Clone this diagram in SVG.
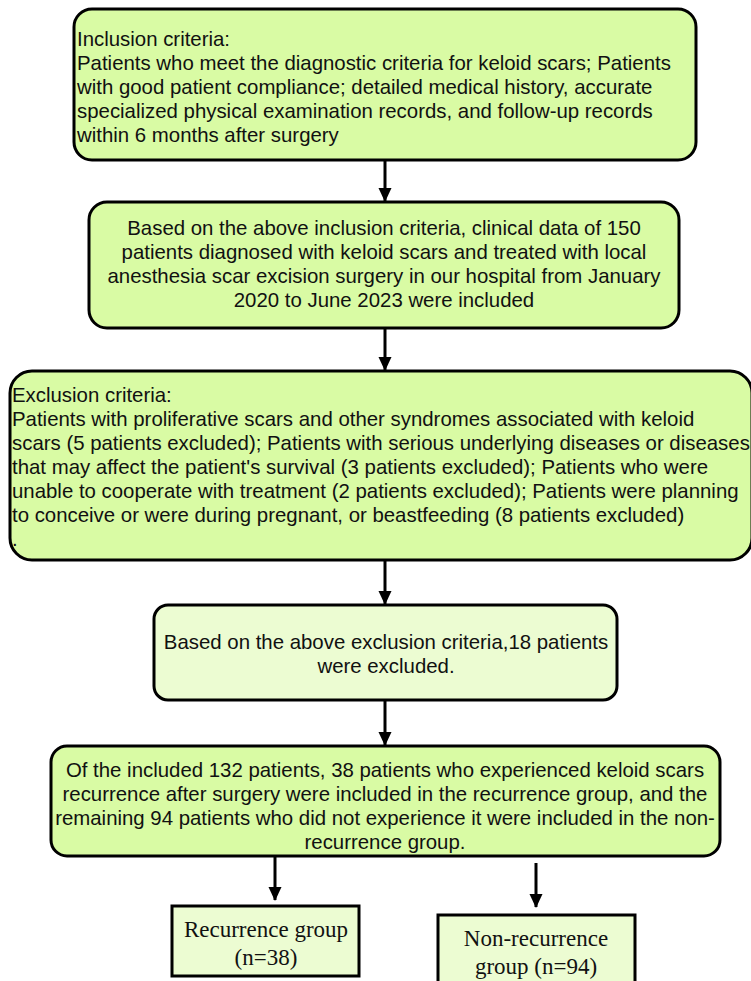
<svg xmlns="http://www.w3.org/2000/svg" width="751" height="981" viewBox="0 0 751 981">
<defs>
<style>
.box{fill:#d9fba4;stroke:#000;stroke-width:3}
.lbox{fill:#ecfcd2;stroke:#000;stroke-width:3}
.t{font-family:"Liberation Sans",Arial,sans-serif;font-size:20.4px;fill:#111}
.c{text-anchor:middle}
.s{font-family:"Liberation Serif","Times New Roman",serif;font-size:23px;fill:#111;text-anchor:middle}
.ln{stroke:#000;stroke-width:3;fill:none}
</style>
<marker id="ah" markerWidth="14" markerHeight="14" refX="13" refY="7" orient="auto" markerUnits="userSpaceOnUse" viewBox="0 0 14 14">
<path d="M0,0.5 L14,7 L0,13.5 Z" fill="#000"/>
</marker>
</defs>
<rect width="751" height="981" fill="#fff"/>
<g id="connectors">
<line class="ln" x1="385" y1="160" x2="385" y2="201" marker-end="url(#ah)"/>
<line class="ln" x1="385" y1="328" x2="385" y2="370" marker-end="url(#ah)"/>
<line class="ln" x1="385" y1="560" x2="385" y2="604" marker-end="url(#ah)"/>
<line class="ln" x1="385" y1="700" x2="385" y2="745" marker-end="url(#ah)"/>
<line class="ln" x1="275" y1="857" x2="275" y2="900" marker-end="url(#ah)"/>
<line class="ln" x1="536" y1="863" x2="536" y2="907" marker-end="url(#ah)"/>
</g>
<g id="inclusion">
<rect class="box" x="74" y="9" width="622" height="151" rx="18"/>
<text class="t" x="77" y="46">Inclusion criteria:</text>
<text class="t" x="77" y="70">Patients who meet the diagnostic criteria for keloid scars; Patients</text>
<text class="t" x="77" y="94">with good patient compliance; detailed medical history, accurate</text>
<text class="t" x="77" y="118">specialized physical examination records, and follow-up records</text>
<text class="t" x="77" y="142">within 6 months after surgery</text>
</g>
<g id="included">
<rect class="box" x="89" y="202" width="590" height="126" rx="18"/>
<text class="t c" x="384" y="235">Based on the above inclusion criteria, clinical data of 150</text>
<text class="t c" x="384" y="259">patients diagnosed with keloid scars and treated with local</text>
<text class="t c" x="384" y="283">anesthesia scar excision surgery in our hospital from January</text>
<text class="t c" x="384" y="307">2020 to June 2023 were included</text>
</g>
<g id="exclusion">
<rect class="box" x="10" y="371" width="742" height="189" rx="22"/>
<text class="t" x="12" y="402">Exclusion criteria:</text>
<text class="t" x="12" y="426">Patients with proliferative scars and other syndromes associated with keloid</text>
<text class="t" x="12" y="450">scars (5 patients excluded); Patients with serious underlying diseases or diseases</text>
<text class="t" x="12" y="474">that may affect the patient's survival (3 patients excluded); Patients who were</text>
<text class="t" x="12" y="498">unable to cooperate with treatment (2 patients excluded); Patients were planning</text>
<text class="t" x="12" y="522">to conceive or were during pregnant, or beastfeeding (8 patients excluded)</text>
<text class="t" x="12" y="546">.</text>
</g>
<g id="excluded">
<rect class="lbox" x="154" y="605" width="463" height="95" rx="14"/>
<text class="t c" x="386" y="649">Based on the above exclusion criteria,18 patients</text>
<text class="t c" x="386" y="673">were excluded.</text>
</g>
<g id="groups">
<rect class="box" x="51" y="746" width="669" height="110" rx="16"/>
<text class="t c" x="385" y="777">Of the included 132 patients, 38 patients who experienced keloid scars</text>
<text class="t c" x="385" y="801">recurrence after surgery were included in the recurrence group, and the</text>
<text class="t c" x="385" y="825">remaining 94 patients who did not experience it were included in the non-</text>
<text class="t c" x="385" y="849">recurrence group.</text>
</g>
<g id="recurrence">
<rect class="lbox" x="172" y="906" width="187" height="70"/>
<text class="s" x="266" y="937">Recurrence group</text>
<text class="s" x="266" y="965">(n=38)</text>
</g>
<g id="nonrecurrence">
<rect class="lbox" x="438" y="915" width="197" height="70"/>
<text class="s" x="536" y="946">Non-recurrence</text>
<text class="s" x="536" y="974">group (n=94)</text>
</g>
</svg>
